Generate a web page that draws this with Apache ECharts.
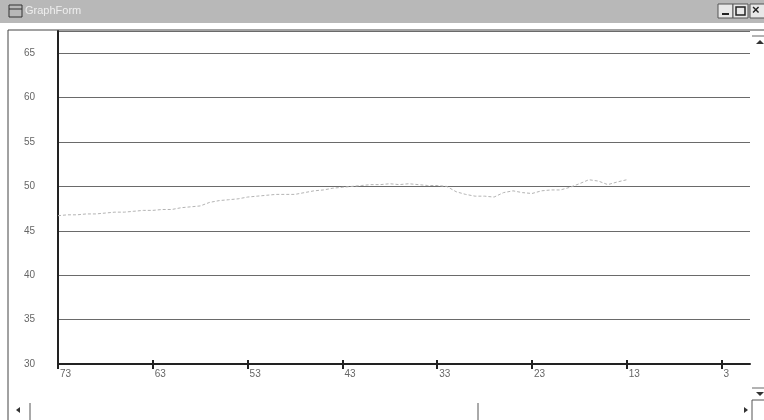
<!DOCTYPE html>
<html>
<head>
<meta charset="utf-8">
<script src="https://cdn.jsdelivr.net/npm/echarts@6/dist/echarts.min.js"></script>
<style>
  html, body { margin: 0; padding: 0; background: #fff; }
  #graph { width: 764px; height: 420px; }
</style>
</head>
<body>
<div id="graph"></div>
<script>
// x position (counts down from 73) and the value read at it
var xPos = [73, 72, 71, 70, 69, 68, 67, 66, 65, 64, 63, 62, 61, 60, 59, 58, 57, 56, 55, 54,
            53, 52, 51, 50, 49, 48, 47, 46, 45, 44, 43, 42, 41, 40, 39, 38, 37, 36, 35, 34,
            33, 32, 31, 30, 29, 28, 27, 26, 25, 24, 23, 22, 21, 20, 19, 18, 17, 16, 15, 14, 13];
var values = [46.7, 46.8, 46.8, 46.9, 46.9, 47.0, 47.1, 47.1, 47.2, 47.3, 47.3, 47.4, 47.4, 47.6, 47.7, 47.8, 48.2, 48.4, 48.5, 48.6,
              48.8, 48.9, 49.0, 49.1, 49.1, 49.1, 49.3, 49.5, 49.6, 49.8, 49.9, 50.0, 50.1, 50.2, 50.2, 50.3, 50.2, 50.3, 50.2, 50.1,
              50.1, 50.0, 49.4, 49.1, 48.9, 48.9, 48.8, 49.3, 49.5, 49.3, 49.2, 49.5, 49.6, 49.6, 49.9, 50.3, 50.75, 50.6, 50.2, 50.5, 50.75];
var xTicks = [73, 63, 53, 43, 33, 23, 13, 3];

var graph = echarts.init(document.getElementById('graph'));

var points = [];
for (var i = 0; i < xPos.length; i++) {
    points.push([xPos[i], values[i]]);
}

var font = '"Liberation Sans", Arial, sans-serif';

var option = {
    animation: false,
    backgroundColor: '#fff',
    grid: { left: 58, right: 14, top: 31, bottom: 56 },
    xAxis: [{
        type: 'value',
        min: 0,
        max: 73,
        inverse: true,
        splitLine: { show: false },
        axisLine: { show: true, onZero: false, lineStyle: { color: '#222', width: 2 } },
        axisTick: { show: true, customValues: xTicks, length: 5, lineStyle: { color: '#222', width: 2 } },
        axisLabel: {
            customValues: xTicks, align: 'left', margin: 5, padding: [0, 0, 0, 2],
            color: '#666', fontSize: 10, fontFamily: font
        }
    }, {
        type: 'value',
        min: 0,
        max: 73,
        inverse: true,
        position: 'bottom',
        splitLine: { show: false },
        axisLine: { show: false, onZero: false },
        axisTick: { show: true, inside: true, customValues: xTicks, length: 4, lineStyle: { color: '#222', width: 2 } },
        axisLabel: { show: false }
    }],
    yAxis: {
        type: 'value',
        position: 'left',
        min: 30,
        max: 67.5,
        interval: 5,
        axisLine: { show: true, onZero: false, lineStyle: { color: '#222', width: 2 } },
        axisTick: { show: false },
        splitLine: { lineStyle: { color: '#6a6a6a', width: 1 } },
        axisLabel: {
            margin: 23, color: '#666', fontSize: 10, fontFamily: font,
            formatter: function (v) { return v % 5 === 0 ? String(v) : ''; }
        }
    },
    series: [{
        type: 'line',
        data: points,
        symbol: 'none',
        lineStyle: { color: '#b4b4b4', width: 1, type: [3, 2] }
    }],
    graphic: [
        // title bar
        { type: 'rect', shape: { x: 0, y: 0, width: 764, height: 23 }, style: { fill: '#b8b8b8' }, silent: true },
        { type: 'rect', shape: { x: 9, y: 5, width: 13, height: 12 }, style: { fill: 'none', stroke: '#333', lineWidth: 1 } },
        { type: 'line', shape: { x1: 9, y1: 9, x2: 22, y2: 9 }, style: { stroke: '#333', lineWidth: 1 } },
        { type: 'text', x: 25, y: 5, style: { text: 'GraphForm', fill: '#eee', font: '11px ' + font } },
        { type: 'rect', shape: { x: 718, y: 4, width: 15, height: 14 }, style: { fill: '#e8e8e8', stroke: '#555', lineWidth: 1 } },
        { type: 'line', shape: { x1: 722, y1: 14, x2: 729, y2: 14 }, style: { stroke: '#222', lineWidth: 2 } },
        { type: 'rect', shape: { x: 733, y: 4, width: 15, height: 14 }, style: { fill: '#e8e8e8', stroke: '#555', lineWidth: 1 } },
        { type: 'rect', shape: { x: 736, y: 7, width: 9, height: 8 }, style: { fill: 'none', stroke: '#222', lineWidth: 1.5 } },
        { type: 'rect', shape: { x: 750, y: 4, width: 16, height: 14 }, style: { fill: '#e8e8e8', stroke: '#555', lineWidth: 1 } },
        { type: 'text', x: 752, y: 4, style: { text: '×', fill: '#222', font: 'bold 13px ' + font } },
        // window frame
        { type: 'line', shape: { x1: 8, y1: 30, x2: 764, y2: 30 }, style: { stroke: '#444', lineWidth: 1 } },
        { type: 'line', shape: { x1: 8, y1: 30, x2: 8, y2: 420 }, style: { stroke: '#444', lineWidth: 1 } },
        // vertical scrollbar
        { type: 'line', shape: { x1: 752, y1: 36, x2: 764, y2: 36 }, style: { stroke: '#666', lineWidth: 1 } },
        { type: 'polygon', shape: { points: [[756, 44], [760, 40], [764, 44]] }, style: { fill: '#333' } },
        { type: 'line', shape: { x1: 752, y1: 388, x2: 764, y2: 388 }, style: { stroke: '#666', lineWidth: 1 } },
        { type: 'polygon', shape: { points: [[756, 392], [760, 396], [764, 392]] }, style: { fill: '#333' } },
        // horizontal scrollbar
        { type: 'polygon', shape: { points: [[16, 410], [20, 407], [20, 413]] }, style: { fill: '#333' } },
        { type: 'line', shape: { x1: 30, y1: 403, x2: 30, y2: 420 }, style: { stroke: '#555', lineWidth: 1 } },
        { type: 'line', shape: { x1: 478, y1: 403, x2: 478, y2: 420 }, style: { stroke: '#555', lineWidth: 1 } },
        { type: 'polygon', shape: { points: [[744, 407], [744, 413], [748, 410]] }, style: { fill: '#333' } },
        { type: 'rect', shape: { x: 752, y: 400, width: 14, height: 22 }, style: { fill: 'none', stroke: '#555', lineWidth: 1 } }
    ]
};

graph.setOption(option);
</script>
</body>
</html>
